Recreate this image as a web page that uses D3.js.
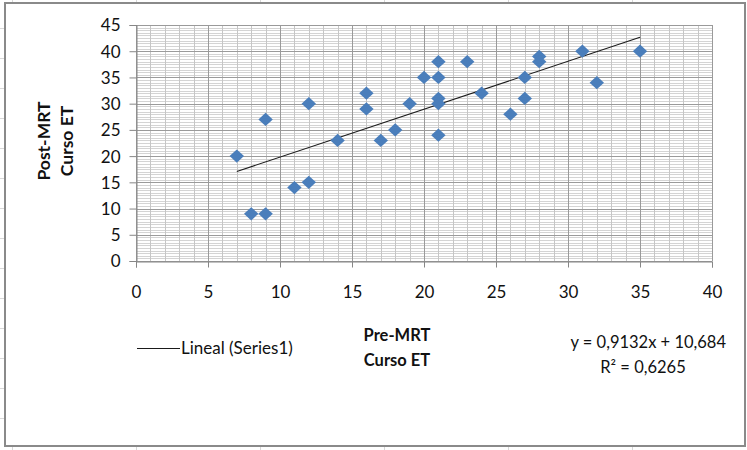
<!DOCTYPE html>
<html>
<head>
<meta charset="utf-8">
<script src="https://cdn.jsdelivr.net/npm/d3@7"></script>
<style>
  html, body { margin: 0; padding: 0; background: #fff; }
  svg { display: block; }
  text { font-family: Lato, "Open Sans", sans-serif; fill: #111; }
</style>
</head>
<body>
<svg id="chart" width="747" height="450"></svg>
<script>
// Pre-MRT and Post-MRT "Curso ET" scores, one entry per participant
const preScores  = [7, 8, 9, 9, 11, 12, 12, 14, 16, 16, 17, 18, 19, 20, 21, 21, 21, 21, 21, 23, 24, 26, 27, 27, 28, 28, 31, 32, 35];
const postScores = [20, 9, 9, 27, 14, 15, 30, 23, 32, 29, 23, 25, 30, 35, 38, 35, 31, 30, 24, 38, 32, 28, 35, 31, 39, 38, 40, 34, 40];

// Linear trend (as reported by the equation label)
const trendSlope = [0.9132];
const trendIntercept = [10.684];
const trendR2 = [0.6265];

const xTicks = [0, 5, 10, 15, 20, 25, 30, 35, 40];
const yTicks = [0, 5, 10, 15, 20, 25, 30, 35, 40, 45];
const xMinor = d3.range(0, 40.001, 1);
const yMinor = d3.range(0, 45.001, 0.5);

const svg = d3.select("#chart");

// sheet cell borders peeking around the chart frame
const sheet = svg.append("g").attr("stroke", "#d8d8d8").attr("stroke-width", 1);
[12, 136, 260, 384, 508, 632].forEach(px => {
  sheet.append("line").attr("x1", px + 0.5).attr("x2", px + 0.5).attr("y1", 0).attr("y2", 3);
  sheet.append("line").attr("x1", px + 0.5).attr("x2", px + 0.5).attr("y1", 447).attr("y2", 450);
});
d3.range(28, 445, 30).forEach(py => {
  sheet.append("line").attr("x1", 0).attr("x2", 4).attr("y1", py + 0.5).attr("y2", py + 0.5);
});

// chart frame
svg.append("rect")
  .attr("x", 5).attr("y", 3).attr("width", 740).attr("height", 443)
  .attr("fill", "#fff").attr("stroke", "#8a8a8a").attr("stroke-width", 2);

const plot = { left: 136, right: 712, top: 25, bottom: 261 };

const x = d3.scaleLinear().domain([0, 40]).range([plot.left, plot.right]);
const y = d3.scaleLinear().domain([0, 45]).range([plot.bottom, plot.top]);

const px = v => Math.round(x(v)) + 0.5;
const py = v => Math.round(y(v)) + 0.5;

// gridlines: minor first, major on top
const grid = svg.append("g");
grid.append("g").selectAll("line").data(yMinor).join("line")
  .attr("x1", plot.left).attr("x2", plot.right)
  .attr("y1", py).attr("y2", py)
  .attr("stroke", "#d4d4d4").attr("stroke-width", 1);
grid.append("g").selectAll("line").data(xMinor).join("line")
  .attr("y1", plot.top).attr("y2", plot.bottom)
  .attr("x1", px).attr("x2", px)
  .attr("stroke", "#c6c6c6").attr("stroke-width", 1);
grid.append("g").selectAll("line").data(yTicks).join("line")
  .attr("x1", plot.left).attr("x2", plot.right)
  .attr("y1", py).attr("y2", py)
  .attr("stroke", "#9a9a9a").attr("stroke-width", 1);
grid.append("g").selectAll("line").data(xTicks).join("line")
  .attr("y1", plot.top).attr("y2", plot.bottom)
  .attr("x1", px).attr("x2", px)
  .attr("stroke", "#9a9a9a").attr("stroke-width", 1);

// axes
const xAxis = d3.axisBottom(x).tickValues(xTicks).tickSize(6).tickPadding(18).tickFormat(d3.format("d"));
const yAxis = d3.axisLeft(y).tickValues(yTicks).tickSize(7).tickPadding(9).tickFormat(d3.format("d"));

const gx = svg.append("g").attr("transform", `translate(0,${plot.bottom + 0.5})`).call(xAxis);
const gy = svg.append("g").attr("transform", `translate(${plot.left + 0.5},0)`).call(yAxis);
[gx, gy].forEach(g => {
  g.select(".domain").attr("stroke", "#868686");
  g.selectAll(".tick line").attr("stroke", "#868686");
  g.selectAll(".tick text").attr("font-size", 17).attr("fill", "#111")
    .attr("font-family", "Lato, 'Open Sans', sans-serif");
});
gy.selectAll(".tick text").attr("dy", "0.35em");

// trend line over the observed Pre-MRT range
const [xMin, xMax] = d3.extent(preScores);
const trendPts = [xMin, xMax].map(v => [v, trendSlope[0] * v + trendIntercept[0]]);
svg.append("path")
  .attr("d", d3.line().x(d => x(d[0])).y(d => y(d[1]))(trendPts))
  .attr("stroke", "#1a1a1a").attr("stroke-width", 1.1).attr("fill", "none");

// data markers: squares turned 45° into diamonds
const square = d3.symbol().type(d3.symbolSquare).size(104)();
const pts = preScores.map((v, i) => [v, postScores[i]]);
svg.append("g").selectAll("path").data(pts).join("path")
  .attr("d", square)
  .attr("transform", d => `translate(${x(d[0])},${y(d[1])}) scale(1,0.92) rotate(45)`)
  .attr("fill", "#4a7ebb");

// axis titles
svg.append("text")
  .attr("transform", "translate(55,141) rotate(-90)")
  .attr("text-anchor", "middle").attr("font-weight", "bold").attr("font-size", 17.5)
  .selectAll("tspan").data(["Post-MRT", "Curso ET"]).join("tspan")
  .attr("x", 0).attr("dy", (d, i) => i === 0 ? "-0.3em" : "1.35em").text(d => d);

svg.append("text")
  .attr("x", 397).attr("y", 341)
  .attr("text-anchor", "middle").attr("font-weight", "bold").attr("font-size", 16.5)
  .selectAll("tspan").data(["Pre-MRT", "Curso ET"]).join("tspan")
  .attr("x", 397).attr("dy", (d, i) => i === 0 ? 0 : "1.5em").text(d => d);

// legend
svg.append("line").attr("x1", 137).attr("x2", 180).attr("y1", 348.5).attr("y2", 348.5)
  .attr("stroke", "#1a1a1a").attr("stroke-width", 1);
svg.append("text").attr("x", 181).attr("y", 348).attr("dy", "0.35em")
  .attr("font-size", 17).text("Lineal (Series1)");

// regression equation
const fmt = v => String(v).replace(".", ",");
svg.append("text").attr("x", 726).attr("y", 342).attr("dy", "0.35em")
  .attr("text-anchor", "end").attr("font-size", 16.5)
  .text(`y = ${fmt(trendSlope[0])}x + ${fmt(trendIntercept[0])}`);
svg.append("text").attr("x", 643).attr("y", 367).attr("dy", "0.35em")
  .attr("text-anchor", "middle").attr("font-size", 16.5)
  .text(`R² = ${fmt(trendR2[0])}`);
</script>
</body>
</html>
